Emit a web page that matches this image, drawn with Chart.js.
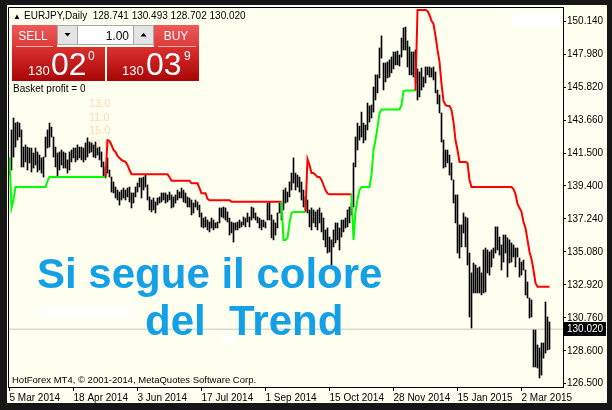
<!DOCTYPE html>
<html>
<head>
<meta charset="utf-8">
<script src="https://cdn.jsdelivr.net/npm/chart.js@4"></script>
<style>
  html, body { margin: 0; padding: 0; background: #161616; }
  canvas { display: block; }
</style>
</head>
<body>
<canvas id="chart" width="612" height="410"></canvas>
<script>
// EURJPY daily, one entry per bar
const highs = [
  141.09, 143.05, 143.83, 143.50, 143.57, 143.50, 143.05, 141.93, 142.07, 141.93,
  141.87, 141.87, 141.54, 141.87, 141.61, 141.41, 141.22, 141.28, 142.59, 143.05,
  143.50, 143.24, 142.59, 141.93, 141.54, 141.61, 141.74, 141.61, 141.54, 141.09,
  141.61, 141.74, 141.87, 141.87, 142.07, 141.93, 141.93, 141.87, 142.20, 142.53,
  142.26, 142.20, 142.07, 142.26, 141.87, 141.93, 141.61, 140.96, 140.63, 141.22,
  140.43, 139.97, 139.65, 139.32, 139.12, 138.99, 139.12, 139.25, 139.12, 139.25,
  139.32, 138.93, 138.93, 139.32, 139.58, 139.91, 139.91, 139.97, 140.10, 139.45,
  138.67, 138.47, 138.60, 138.34, 138.60, 138.67, 138.93, 138.93, 138.93, 138.80,
  138.99, 138.80, 138.67, 138.80, 139.12, 138.99, 139.25, 139.12, 138.93, 138.67,
  138.60, 138.47, 138.27, 138.47, 138.34, 138.14, 137.62, 137.29, 137.36, 137.16,
  137.03, 137.29, 137.16, 136.97, 137.03, 137.95, 137.95, 138.01, 137.95, 137.69,
  137.29, 137.03, 136.97, 136.97, 137.03, 137.16, 137.03, 137.36, 137.29, 137.62,
  137.36, 138.01, 137.95, 137.62, 137.36, 137.29, 137.16, 137.16, 137.03, 138.27,
  138.34, 137.49, 137.16, 136.97, 137.62, 138.27, 138.27, 139.12, 139.25, 138.99,
  139.65, 140.23, 141.22, 140.23, 140.10, 139.97, 139.65, 139.12, 138.67, 138.47,
  137.82, 137.95, 137.82, 137.69, 137.82, 137.95, 137.62, 137.29, 136.51, 136.64,
  136.05, 135.86, 136.51, 136.97, 136.97, 136.64, 137.16, 137.16, 137.29, 137.82,
  138.01, 138.27, 140.89, 142.59, 143.50, 143.30, 144.22, 143.50, 143.37, 144.81,
  144.62, 144.68, 145.86, 146.65, 146.65, 148.41, 149.20, 147.43, 147.43, 147.50,
  147.63, 147.82, 148.15, 148.15, 148.21, 147.95, 149.06, 149.72, 149.78, 148.87,
  148.48, 148.15, 148.15, 148.28, 147.04, 146.84, 147.10, 146.51, 147.17, 147.17,
  147.17, 147.10, 147.17, 146.84, 145.66, 145.34, 144.16, 142.39, 141.74, 141.74,
  141.41, 140.89, 139.78, 138.80, 138.80, 136.84, 136.84, 137.62, 137.36, 137.29,
  135.00, 133.70, 134.35, 134.22, 134.02, 134.09, 133.70, 135.20, 135.33, 135.20,
  135.07, 135.20, 135.33, 136.71, 136.71, 136.05, 135.53, 136.18, 136.18, 135.99,
  135.86, 135.66, 135.53, 135.33, 135.33, 134.67, 134.41, 134.54, 133.89, 133.11,
  132.06, 131.93, 129.97, 129.97, 128.99, 128.79, 129.12, 129.12, 131.80, 130.82, 130.49
];
const lows = [
  140.10, 140.43, 141.28, 141.93, 142.39, 142.59, 140.63, 140.63, 140.96, 140.43,
  140.89, 140.30, 140.56, 140.76, 140.30, 140.43, 140.23, 139.97, 141.28, 141.87,
  141.93, 142.59, 141.28, 140.63, 139.97, 140.43, 140.76, 140.56, 140.56, 140.23,
  140.43, 140.96, 141.22, 140.96, 141.09, 141.22, 141.09, 140.96, 141.09, 141.28,
  141.54, 141.61, 141.28, 141.22, 141.41, 141.09, 140.63, 139.97, 139.91, 140.23,
  139.97, 138.99, 138.93, 138.60, 138.47, 138.14, 138.47, 138.60, 138.47, 138.67,
  138.34, 137.95, 138.27, 138.67, 138.99, 139.32, 138.60, 139.12, 139.32, 138.47,
  137.82, 137.69, 137.82, 137.62, 138.14, 138.27, 138.34, 138.47, 138.27, 138.34,
  138.47, 137.95, 138.01, 138.27, 138.47, 138.60, 138.60, 138.34, 138.27, 138.01,
  138.01, 137.49, 137.62, 138.01, 137.82, 137.36, 136.71, 136.64, 136.71, 136.51,
  136.38, 136.64, 136.51, 136.64, 136.64, 136.97, 137.36, 137.29, 137.16, 137.03,
  136.18, 136.31, 135.72, 136.51, 136.51, 136.64, 136.71, 136.84, 136.71, 137.03,
  136.71, 137.16, 137.29, 137.16, 136.97, 136.64, 136.51, 136.71, 136.64, 137.16,
  137.16, 135.99, 135.86, 136.18, 136.64, 137.62, 137.16, 137.82, 138.27, 138.34,
  138.67, 139.12, 139.58, 139.12, 139.32, 138.99, 138.47, 138.01, 137.82, 137.62,
  136.71, 136.51, 136.97, 136.71, 136.51, 136.97, 136.38, 135.86, 135.40, 135.00,
  135.07, 134.22, 135.40, 135.66, 135.86, 135.20, 136.05, 136.38, 136.64, 136.71,
  136.97, 137.49, 138.01, 140.63, 141.74, 142.39, 142.59, 142.20, 142.39, 143.05,
  143.57, 143.83, 144.22, 145.01, 145.47, 146.45, 147.75, 145.66, 146.19, 146.45,
  146.51, 146.78, 147.04, 147.30, 147.30, 147.23, 147.82, 148.28, 148.28, 147.17,
  146.65, 146.65, 146.51, 146.12, 145.01, 145.21, 145.66, 145.86, 146.12, 146.65,
  146.51, 146.51, 146.32, 145.47, 144.75, 144.16, 142.26, 140.56, 140.63, 140.89,
  140.10, 139.78, 138.27, 136.97, 135.00, 134.67, 135.40, 136.31, 135.40, 134.22,
  130.82, 130.10, 132.39, 132.39, 132.39, 132.39, 132.26, 132.39, 132.45, 133.70,
  133.56, 134.09, 134.67, 135.00, 135.20, 134.87, 133.89, 134.41, 135.00, 133.43,
  134.35, 134.41, 134.74, 134.09, 134.74, 133.43, 133.56, 133.89, 132.26, 132.06,
  130.75, 130.82, 127.55, 127.55, 127.48, 126.83, 127.02, 128.13, 128.46, 128.66, 128.70
];
// trailing trend line, one value per bar
const trend = [
  141.28, 137.95, 138.47, 139.32, 139.32, 139.32, 139.32, 139.32, 139.32, 139.32,
  139.32, 139.32, 139.32, 139.32, 139.32, 139.32, 139.32, 139.32, 139.32, 139.71,
  139.98, 139.98, 139.98, 139.98, 139.98, 139.98, 139.98, 139.98, 139.98, 139.98,
  139.98, 139.98, 139.98, 139.98, 139.98, 139.98, 139.98, 139.98, 139.98, 139.98,
  139.98, 139.98, 139.98, 139.98, 139.98, 139.98, 139.98, 139.98, 139.98, 142.39,
  142.33, 142.07, 141.74, 141.61, 141.35, 141.22, 141.09, 141.02, 140.96, 140.76,
  140.43, 140.15, 140.15, 140.15, 140.15, 140.15, 140.15, 140.15, 140.15, 140.15,
  140.15, 140.15, 140.15, 140.15, 140.15, 140.15, 140.15, 140.15, 140.15, 140.15,
  139.97, 139.73, 139.73, 139.73, 139.73, 139.73, 139.73, 139.73, 139.73, 139.73,
  139.73, 139.56, 139.56, 139.56, 139.56, 139.25, 138.91, 138.91, 138.91, 138.54,
  138.45, 138.45, 138.45, 138.45, 138.45, 138.45, 138.45, 138.45, 138.45, 138.45,
  138.45, 138.36, 138.36, 138.36, 138.36, 138.36, 138.36, 138.36, 138.36, 138.36,
  138.36, 138.36, 138.36, 138.36, 138.36, 138.36, 138.36, 138.36, 138.36, 138.36,
  138.36, 138.36, 138.36, 138.36, 138.36, 138.36, 138.36, 135.86, 135.86, 135.99,
  136.97, 137.62, 137.69, 137.69, 137.69, 137.69, 137.69, 137.69, 137.69, 141.15,
  140.76, 140.23, 140.23, 140.10, 139.97, 139.97, 139.78, 139.45, 139.12, 138.89,
  138.84, 138.84, 138.84, 138.84, 138.84, 138.84, 138.84, 138.84, 138.84, 138.84,
  138.84, 138.84, 135.86, 137.69, 138.54, 139.12, 139.32, 139.32, 139.32, 139.32,
  139.32, 140.10, 141.74, 142.39, 143.24, 144.16, 144.39, 144.39, 144.39, 144.39,
  144.39, 144.39, 144.39, 144.39, 144.39, 144.39, 144.68, 145.60, 145.63, 145.63,
  145.63, 145.63, 145.63, 145.63, 150.90, 150.90, 150.90, 150.90, 150.90, 150.83,
  150.57, 150.18, 149.98, 149.20, 148.28, 147.50, 146.06, 144.94, 144.68, 144.62,
  144.62, 144.36, 143.57, 142.39, 141.74, 140.96, 140.96, 140.96, 140.96, 140.89,
  139.78, 139.32, 139.32, 139.32, 139.32, 139.32, 139.32, 139.32, 139.32, 139.32,
  139.32, 139.32, 139.32, 139.32, 139.32, 139.32, 139.32, 139.32, 139.32, 139.32,
  139.32, 139.32, 139.19, 138.86, 138.21, 137.95, 137.69, 137.03, 136.64, 135.86,
  135.07, 134.61, 133.89, 133.04, 132.80, 132.80, 132.80, 132.80, 132.80, 132.80, 132.80
];
// bar index where the trend line changes colour
const trendFlips = [[0, 'up'], [49, 'down'], [137, 'up'], [149, 'down'], [172, 'up'], [204, 'down']];

const dateIdx = [0, 32, 64, 96, 128, 160, 192, 224, 256];
const dateLbl = ['5 Mar 2014', '18 Apr 2014', '3 Jun 2014', '17 Jul 2014', '1 Sep 2014',
  '15 Oct 2014', '28 Nov 2014', '15 Jan 2015', '2 Mar 2015'];
const priceTicks = [150.14, 147.98, 145.82, 143.66, 141.5, 139.4, 137.24, 135.08, 132.92, 130.76, 128.6, 126.5];
const bid = 130.02;
const quote = ['128.741', '130.493', '128.702', '130.020'];
const faintLevels = ['13.0', '11.0', '15.0', '17.0'];

const FONT = "'Liberation Sans', Arial, sans-serif";

function trendColor(i) {
  let dir = 'up';
  trendFlips.forEach(f => { if (i >= f[0]) dir = f[1]; });
  return dir === 'up' ? '#00ff00' : '#ff0000';
}

function txt(ctx, s, x, y, size, color, opts) {
  opts = opts || {};
  ctx.font = (opts.bold ? 'bold ' : '') + size + 'px ' + FONT;
  ctx.fillStyle = color;
  ctx.textAlign = opts.align || 'left';
  ctx.textBaseline = opts.base || 'alphabetic';
  ctx.fillText(s, x, y);
}

function redBox(ctx, x, y, w, h, c1, c2) {
  const g = ctx.createLinearGradient(0, y, 0, y + h);
  g.addColorStop(0, c1);
  g.addColorStop(1, c2);
  ctx.fillStyle = g;
  ctx.fillRect(x, y, w, h);
}

function drawPanel(ctx) {
  // sell / buy heads and price tiles
  redBox(ctx, 12, 25, 45, 22, '#f05a5a', '#da3a3a');
  redBox(ctx, 154, 25, 45, 22, '#f05a5a', '#da3a3a');
  redBox(ctx, 12, 47, 93, 34, '#dc3030', '#a80606');
  redBox(ctx, 107, 47, 92, 34, '#dc3030', '#a80606');
  ctx.strokeStyle = 'rgba(255,190,190,0.9)';
  ctx.lineWidth = 1;
  ctx.beginPath();
  ctx.moveTo(16, 46.5); ctx.lineTo(53, 46.5);
  ctx.moveTo(158, 46.5); ctx.lineTo(196, 46.5);
  ctx.stroke();

  // lot spinner
  ctx.fillStyle = '#e4e4e4';
  ctx.fillRect(57, 25, 20, 20);
  ctx.fillRect(133, 25, 21, 20);
  ctx.fillStyle = '#ffffff';
  ctx.fillRect(77, 25, 56, 20);
  ctx.strokeStyle = '#a8a8a8';
  ctx.strokeRect(57.5, 25.5, 96, 19);
  ctx.beginPath();
  ctx.moveTo(77.5, 25); ctx.lineTo(77.5, 45);
  ctx.moveTo(133.5, 25); ctx.lineTo(133.5, 45);
  ctx.stroke();
  ctx.fillStyle = '#000';
  ctx.beginPath();
  ctx.moveTo(64.5, 33); ctx.lineTo(70.5, 33); ctx.lineTo(67.5, 36.5); ctx.closePath();
  ctx.moveTo(140.5, 36.5); ctx.lineTo(146.5, 36.5); ctx.lineTo(143.5, 33); ctx.closePath();
  ctx.fill();

  txt(ctx, 'SELL', 33, 40, 12, '#fff', { align: 'center' });
  txt(ctx, 'BUY', 176, 40, 12, '#fff', { align: 'center' });
  txt(ctx, '1.00', 129, 40, 12, '#000', { align: 'right' });

  txt(ctx, '130', 28, 75, 13, '#fff');
  txt(ctx, '02', 51, 75, 32, '#fff');
  txt(ctx, '0', 88, 60, 12, '#fff');
  txt(ctx, '130', 122, 75, 13, '#fff');
  txt(ctx, '03', 146, 75, 32, '#fff');
  txt(ctx, '9', 184, 60, 12, '#fff');
}

const mtDecor = {
  id: 'mtDecor',
  beforeDraw(chart) {
    const ctx = chart.ctx;
    ctx.save();
    ctx.fillStyle = '#161616';
    ctx.fillRect(0, 0, chart.width, chart.height);
    ctx.fillStyle = '#fffff0';
    ctx.fillRect(7, 5, 600, 398);
    ctx.restore();
  },
  beforeDatasetsDraw(chart) {
    const ctx = chart.ctx;
    ctx.save();
    faintLevels.forEach((s, k) => txt(ctx, s, 89, 107 + k * 13.7, 11, '#ffd9b3'));
    ctx.restore();
  },
  afterDraw(chart) {
    const ctx = chart.ctx;
    const a = chart.chartArea;
    const ys = chart.scales.y;
    ctx.save();
    // top and left frame of the plot
    ctx.strokeStyle = '#000';
    ctx.lineWidth = 1;
    ctx.beginPath();
    ctx.moveTo(a.left + 0.5, a.bottom);
    ctx.lineTo(a.left + 0.5, a.top + 0.5);
    ctx.lineTo(a.right + 0.5, a.top + 0.5);
    ctx.stroke();

    txt(ctx, '\u25B2', 13, 19, 8, '#000');
    txt(ctx, 'EURJPY,Daily  ' + quote.join(' '), 24, 19, 10, '#000');
    drawPanel(ctx);
    txt(ctx, 'Basket profit = 0', 13, 92, 10, '#000');

    // hidden label objects
    ctx.fillStyle = '#ffffff';
    ctx.fillRect(513, 13, 47, 15);
    ctx.fillRect(36, 306, 98, 12);
    ctx.fillRect(222, 335, 14, 8);

    txt(ctx, 'Si segue il colore', 37, 288, 42, '#14a0e6', { bold: true });
    txt(ctx, 'del', 145, 335, 42, '#14a0e6', { bold: true });
    txt(ctx, 'Trend', 229, 335, 42, '#14a0e6', { bold: true });

    txt(ctx, 'HotForex MT4, \u00A9 2001-2014, MetaQuotes Software Corp.', 12, 383, 9.5, '#000');

    // bid price tag
    const py = Math.round(ys.getPixelForValue(bid));
    ctx.fillStyle = '#000';
    ctx.fillRect(564, py - 7, 42, 14);
    txt(ctx, bid.toFixed(3), 567, py + 0.5, 10, '#fff', { base: 'middle' });
    ctx.restore();
  }
};

new Chart(document.getElementById('chart'), {
  type: 'bar',
  data: {
    datasets: [
      {
        type: 'line',
        data: trend.map((v, i) => ({ x: i, y: v })),
        borderColor: '#00ff00',
        borderWidth: 2,
        pointRadius: 0,
        tension: 0,
        segment: { borderColor: c => trendColor(c.p1DataIndex) },
        order: 0
      },
      {
        type: 'bar',
        data: highs.map((h, i) => ({ x: i, y: [lows[i], h] })),
        backgroundColor: '#000000',
        barThickness: 1,
        grouped: false,
        order: 1
      },
      {
        type: 'line',
        data: [{ x: -0.75, y: bid }, { x: 276.75, y: bid }],
        borderColor: '#c4c4c4',
        borderWidth: 1,
        pointRadius: 0,
        order: 3
      }
    ]
  },
  options: {
    responsive: false,
    animation: false,
    devicePixelRatio: 1,
    layout: { padding: { left: 8, top: 7, right: 0, bottom: 0 } },
    plugins: { legend: { display: false }, tooltip: { enabled: false } },
    scales: {
      x: {
        type: 'linear',
        min: -0.75,
        max: 276.75,
        bounds: 'data',
        offset: false,
        afterBuildTicks: s => { s.ticks = dateIdx.map(v => ({ value: v })); },
        afterFit: s => { s.height = 23; },
        ticks: {
          autoSkip: false,
          maxRotation: 0,
          align: 'start',
          padding: 1,
          color: '#000',
          font: { family: FONT, size: 10 },
          callback: v => dateLbl[dateIdx.indexOf(v)]
        },
        grid: { drawOnChartArea: false, offset: false, tickLength: 4, color: '#000' },
        border: { color: '#000' }
      },
      y: {
        type: 'linear',
        position: 'right',
        min: 126.24,
        max: 151.09,
        bounds: 'data',
        afterBuildTicks: s => { s.ticks = priceTicks.map(v => ({ value: v })); },
        afterFit: s => { s.width = 49; },
        ticks: {
          padding: 1,
          color: '#000',
          font: { family: FONT, size: 10 },
          callback: v => v.toFixed(3)
        },
        grid: { drawOnChartArea: false, tickLength: 3, color: '#000' },
        border: { color: '#000' }
      }
    }
  },
  plugins: [mtDecor]
});
</script>
</body>
</html>
